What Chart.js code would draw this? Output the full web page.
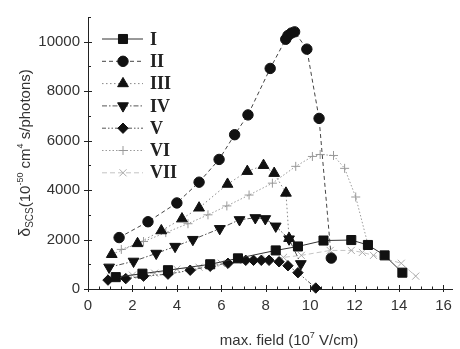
<!DOCTYPE html>
<html>
<head>
<meta charset="utf-8">
<script src="https://cdn.jsdelivr.net/npm/chart.js@4/dist/chart.umd.min.js"></script>
<style>
  html, body { margin: 0; background: #fff; }
</style>
</head>
<body>
<canvas id="c" width="460" height="349"></canvas>
<script>
// values (field in 10^7 V/cm, delta in 10^-50 cm^4 s/photons)
const xI = [1.25, 2.45, 3.6, 5.5, 6.75, 8.45, 9.45, 10.6, 11.85, 12.6, 13.35, 14.15];
const yI = [480, 620, 760, 1000, 1240, 1560, 1720, 1960, 1980, 1780, 1360, 660];

const xII = [1.4, 2.7, 4.0, 5.0, 5.9, 6.6, 7.2, 8.2, 8.9, 9.0, 9.15, 9.3, 9.85, 10.4, 10.95];
const yII = [2080, 2720, 3480, 4320, 5240, 6240, 7040, 8920, 10100, 10250, 10350, 10400, 9700, 6900, 1250];

const xIII = [1.07, 2.23, 3.3, 4.23, 5.0, 6.28, 7.17, 7.9, 8.38, 8.91, 9.05];
const yIII = [1400, 1840, 2360, 2840, 3280, 4240, 4760, 5000, 4680, 3880, 2050];

const xIV = [0.95, 2.05, 3.07, 3.92, 4.72, 5.93, 6.82, 7.53, 7.98, 8.45, 9.05, 9.58];
const yIV = [880, 1120, 1440, 1720, 2000, 2440, 2800, 2880, 2840, 2540, 2020, 1020];

const xV = [0.9, 1.7, 2.5, 3.6, 4.6, 5.5, 6.3, 7.1, 7.45, 7.8, 8.15, 8.6, 9.0, 9.45, 10.25];
const yV = [360, 420, 520, 600, 760, 920, 1040, 1160, 1160, 1160, 1160, 1100, 940, 660, 40];

const xVI = [1.5, 2.5, 3.5, 4.5, 5.4, 6.25, 7.25, 8.3, 9.35, 10.1, 10.45, 11.05, 11.55, 12.05, 12.6];
const yVI = [1600, 1920, 2280, 2640, 3000, 3360, 3800, 4280, 4960, 5360, 5440, 5400, 4880, 3720, 1800];

const xVII = [1.0, 2.0, 3.0, 4.0, 5.0, 6.0, 7.0, 8.0, 8.8, 9.6, 10.9, 11.85, 12.35, 12.85, 14.1, 14.75];
const yVII = [480, 560, 640, 800, 880, 1040, 1160, 1240, 1280, 1360, 1560, 1560, 1480, 1360, 1040, 520];

const seriesNames = ['I', 'II', 'III', 'IV', 'V', 'VI', 'VII'];
const xTicks = [0, 2, 4, 6, 8, 10, 12, 14, 16];
const yTicks = [0, 2000, 4000, 6000, 8000, 10000];

const pts = (xs, ys) => xs.map((x, i) => ({ x, y: ys[i] }));

function series(label, xs, ys, o) {
  return {
    label,
    data: pts(xs, ys),
    borderColor: o.line,
    borderWidth: o.lw || 1,
    borderDash: o.dash || [],
    pointStyle: o.style,
    pointRadius: o.r,
    pointRotation: o.rot || 0,
    pointBackgroundColor: o.mark,
    pointBorderColor: o.mark,
    pointBorderWidth: o.mbw || 1,
    showLine: true,
    fill: false,
    tension: 0,
    clip: false
  };
}

const datasets = [
  series(seriesNames[0], xI, yI, { line: '#333', style: 'rect', r: 6.4, mark: '#111' }),
  series(seriesNames[1], xII, yII, { line: '#444', dash: [4, 3], style: 'circle', r: 5.2, mark: '#111' }),
  series(seriesNames[2], xIII, yIII, { line: '#888', dash: [1.5, 2.5], style: 'triangle', r: 6.2, mark: '#111' }),
  series(seriesNames[3], xIV, yIV, { line: '#555', dash: [5, 2, 1.5, 2], style: 'triangle', rot: 180, r: 6.2, mark: '#111' }),
  series(seriesNames[4], xV, yV, { line: '#555', dash: [4, 2, 1.5, 2, 1.5, 2], style: 'rectRot', r: 5.2, mark: '#111' }),
  series(seriesNames[5], xVI, yVI, { line: '#9a9a9a', dash: [1.5, 2], style: 'cross', r: 4.5, mark: '#999', mbw: 1 }),
  series(seriesNames[6], xVII, yVII, { line: '#c4c4c4', dash: [5, 3], style: 'crossRot', r: 5, mark: '#aaa', mbw: 1 })
];

const FONT = '"Liberation Sans", Arial, sans-serif';

// inward/outward tick marks like the original plot
const tickMarks = {
  id: 'tickMarks',
  afterDraw(chart) {
    const { ctx, scales: { x, y } } = chart;
    ctx.save();
    ctx.strokeStyle = '#222';
    ctx.lineWidth = 1;
    const y0 = y.getPixelForValue(0);
    for (let v = 0; v <= 16.4; v += 0.5) {
      const px = Math.round(x.getPixelForValue(v)) + 0.5;
      const major = v % 2 === 0;
      ctx.beginPath();
      ctx.moveTo(px, y0 - (major ? 4 : 2.5));
      ctx.lineTo(px, y0 + (major ? 3 : 0));
      ctx.stroke();
    }
    const x0 = x.getPixelForValue(0);
    for (let v = 0; v <= 11000; v += 1000) {
      const py = Math.round(y.getPixelForValue(v)) + 0.5;
      const major = v % 2000 === 0;
      ctx.beginPath();
      ctx.moveTo(x0 - (major ? 4 : 0), py);
      ctx.lineTo(x0 + (major ? 4 : 3), py);
      ctx.stroke();
    }
    ctx.restore();
  }
};

// axis titles with sub/superscripts
function drawRich(ctx, parts, cx, cy) {
  let w = 0;
  parts.forEach(p => { ctx.font = p.size + 'px ' + FONT; p.w = ctx.measureText(p.t).width; w += p.w; });
  let xx = cx - w / 2;
  parts.forEach(p => {
    ctx.font = p.size + 'px ' + FONT;
    ctx.fillText(p.t, xx, cy + (p.dy || 0));
    xx += p.w;
  });
}

const titles = {
  id: 'titles',
  afterDraw(chart) {
    const ctx = chart.ctx;
    ctx.save();
    ctx.fillStyle = '#333';
    ctx.textBaseline = 'alphabetic';
    ctx.textAlign = 'left';
    drawRich(ctx, [
      { t: 'max. field (10', size: 15 },
      { t: '7', size: 9, dy: -7 },
      { t: ' V/cm)', size: 15 }
    ], 289, 345);
    ctx.translate(30, 153);
    ctx.rotate(-Math.PI / 2);
    drawRich(ctx, [
      { t: 'δ', size: 16 },
      { t: 'SCS', size: 10, dy: 3 },
      { t: '(10', size: 15 },
      { t: '-50', size: 9, dy: -7 },
      { t: ' cm', size: 15 },
      { t: '4', size: 9, dy: -7 },
      { t: ' s/photons)', size: 15 }
    ], 0, 0);
    ctx.restore();
  }
};

// legend in the top left of the plot
const legendBox = {
  id: 'legendBox',
  afterDraw(chart) {
    const ctx = chart.ctx;
    const H = Chart.helpers;
    ctx.save();
    chart.data.datasets.forEach((ds, i) => {
      const yy = 39 + i * 22.3;
      ctx.strokeStyle = ds.borderColor;
      ctx.lineWidth = ds.borderWidth;
      ctx.setLineDash(ds.borderDash);
      ctx.beginPath();
      ctx.moveTo(102, yy);
      ctx.lineTo(143, yy);
      ctx.stroke();
      ctx.setLineDash([]);
      ctx.fillStyle = ds.pointBackgroundColor;
      ctx.strokeStyle = ds.pointBorderColor;
      ctx.lineWidth = ds.pointBorderWidth;
      if (H && H.drawPoint) {
        H.drawPoint(ctx, { pointStyle: ds.pointStyle, rotation: ds.pointRotation, radius: ds.pointRadius, borderWidth: ds.pointBorderWidth }, 123, yy);
      }
      ctx.fillStyle = '#222';
      ctx.font = 'bold 18px "Liberation Serif", "Times New Roman", serif';
      ctx.textBaseline = 'middle';
      ctx.fillText(ds.label, 150, yy + 1);
    });
    ctx.restore();
  }
};

new Chart(document.getElementById('c'), {
  type: 'scatter',
  data: { datasets },
  options: {
    responsive: false,
    animation: false,
    layout: { padding: { top: 14, right: 4, left: 0, bottom: 0 } },
    plugins: { legend: { display: false }, tooltip: { enabled: false } },
    scales: {
      x: {
        type: 'linear',
        min: 0,
        max: 16.4,
        afterBuildTicks: s => { s.ticks = xTicks.map(v => ({ value: v })); },
        afterFit: s => { s.height = 60; },
        grid: { display: false, drawTicks: false },
        border: { display: true, color: '#222', width: 1 },
        ticks: { padding: 8, color: '#333', font: { family: FONT, size: 15 }, maxRotation: 0, callback: v => String(v) }
      },
      y: {
        type: 'linear',
        min: 0,
        max: 11000,
        afterBuildTicks: s => { s.ticks = yTicks.map(v => ({ value: v })); },
        afterFit: s => { s.width = 88; },
        grid: { display: false, drawTicks: false },
        border: { display: true, color: '#222', width: 1 },
        ticks: { padding: 8, color: '#333', font: { family: FONT, size: 15 }, callback: v => String(v) }
      }
    }
  },
  plugins: [tickMarks, titles, legendBox]
});
</script>
</body>
</html>
